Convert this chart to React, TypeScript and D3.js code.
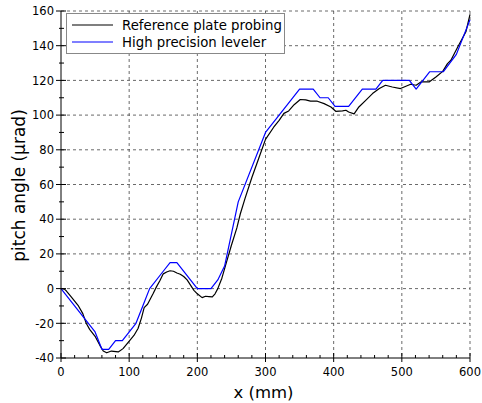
import React from "react";
import * as d3 from "d3";

const probeX = [0,5,8,15,25,32,37,42,50,57,62,67,74,84,91,101,107,113,118,122,127,131,135,140,145,150,155,160,165,170,175,180,185,190,195,200,207,212,217,222,226,230,236,243,250,258,263,270,280,290,300,312,320,327,334,342,351,359,366,376,386,396,403,413,418,422,430,437,447,457,467,476,486,498,506,513,521,528,540,550,560,567,572,582,594,600];
const probeY = [0,-0.3,-1.4,-4.8,-9.6,-14.4,-20,-23.5,-27.5,-32.7,-36,-37,-36,-36.5,-34.6,-29.8,-27,-23,-17,-11,-9,-6,-3,1,4.5,8.5,9.6,10.3,10,9,8.3,7,5,2,-1,-3,-5.2,-4.4,-4.6,-4.8,-3,0,6,15.5,25,35,43,52,64,75,86,93,97,101,102.4,106,109,108.8,108.1,108,106.6,104.7,102.2,102.4,102.8,101.8,100.7,104.7,108.5,112.4,115.3,117.2,116.2,115.3,116.6,117.8,117.2,119.1,119.1,122,125.2,129.7,131.6,139.3,148,158];

const levelX = [0,50,60,70,80,90,110,120,130,150,160,170,200,220,230,240,260,300,322,350,370,380,392,402,422,442,462,472,511,521,541,561,580,600];
const levelY = [0,-25,-35,-35,-30,-30,-20,-10,0,10,15,15,0,0,5,13,50,90,101,115,115,110,110,105,105,115,115,120,120,115,125,125,135,155];

const xTicks = [0,100,200,300,400,500,600];
const yTicks = [-40,-20,0,20,40,60,80,100,120,140,160];
const seriesNames = ["Reference plate probing", "High precision leveler"];
const seriesColors = ["#000000", "#0000ff"];

const W = 482, H = 403;
const L = 61, R = 470, T = 11, B = 358;

export default function App() {
  const x = d3.scaleLinear().domain([0, 600]).range([L, R]);
  const y = d3.scaleLinear().domain([-40, 160]).range([B, T]);
  const line = d3.line<[number, number]>().x(d => x(d[0])).y(d => y(d[1]));
  const probe = probeX.map((v, i) => [v, probeY[i]] as [number, number]);
  const level = levelX.map((v, i) => [v, levelY[i]] as [number, number]);
  const xMinor = d3.range(0, 601, 20).filter(v => v % 100 !== 0);
  const yMinor = d3.range(-40, 161, 10).filter(v => v % 20 !== 0);
  const font = "DejaVu Sans, sans-serif";
  return (
    <div style={{ position: "fixed", left: 0, top: 0 }}>
      <svg width={W} height={H} style={{ display: "block", background: "#fff" }} fontFamily={font}>
        <rect x={0} y={0} width={W} height={H} fill="#fff" />
        {/* grid */}
        {xTicks.filter(v => v !== 0).map(v => (
          <line key={"gx" + v} x1={x(v)} x2={x(v)} y1={T} y2={B} stroke="#444" strokeWidth={0.8} strokeDasharray="3,3" />
        ))}
        {yTicks.filter(v => v !== -40).map(v => (
          <line key={"gy" + v} x1={L} x2={R} y1={y(v)} y2={y(v)} stroke="#444" strokeWidth={0.8} strokeDasharray="3,3" />
        ))}
        {/* curves */}
        <path d={line(probe) || ""} fill="none" stroke={seriesColors[0]} strokeWidth={1.2} strokeLinejoin="round" />
        <path d={line(level) || ""} fill="none" stroke={seriesColors[1]} strokeWidth={1.2} strokeLinejoin="round" />
        {/* axes */}
        <line x1={L} x2={L} y1={T} y2={B} stroke="#000" strokeWidth={1} />
        <line x1={L} x2={R} y1={B} y2={B} stroke="#000" strokeWidth={1} />
        {xTicks.map(v => (
          <g key={"xt" + v}>
            <line x1={x(v)} x2={x(v)} y1={B - 5} y2={B + 4} stroke="#000" strokeWidth={1} />
            <text x={x(v)} y={376} fontSize={11.5} textAnchor="middle" fill="#000">{v}</text>
          </g>
        ))}
        {xMinor.map(v => (
          <line key={"xm" + v} x1={x(v)} x2={x(v)} y1={B - 3} y2={B} stroke="#000" strokeWidth={1} />
        ))}
        {yTicks.map(v => (
          <g key={"yt" + v}>
            <line x1={L - 5} x2={L + 5} y1={y(v)} y2={y(v)} stroke="#000" strokeWidth={1} />
            <text x={54} y={y(v) + 4.2} fontSize={11.5} textAnchor="end" fill="#000">{v}</text>
          </g>
        ))}
        {yMinor.map(v => (
          <line key={"ym" + v} x1={L - 2} x2={L + 3} y1={y(v)} y2={y(v)} stroke="#000" strokeWidth={1} />
        ))}
        {/* axis titles */}
        <text x={(L + R) / 2 - 2} y={398} fontSize={16.5} textAnchor="middle" fill="#000">x (mm)</text>
        <text transform={`translate(25,185.5) rotate(-90)`} fontSize={17} textAnchor="middle" fill="#000">pitch angle (µrad)</text>
        {/* legend */}
        <rect x={66.5} y={13.5} width={218} height={40} fill="#fff" stroke="#888" strokeWidth={1} />
        {seriesNames.map((n, i) => (
          <g key={n}>
            <line x1={72} x2={113} y1={25 + i * 17} y2={25 + i * 17} stroke={seriesColors[i]} strokeWidth={1.2} />
            <text x={122} y={30 + i * 17} fontSize={13.3} fill="#000">{n}</text>
          </g>
        ))}
      </svg>
    </div>
  );
}
